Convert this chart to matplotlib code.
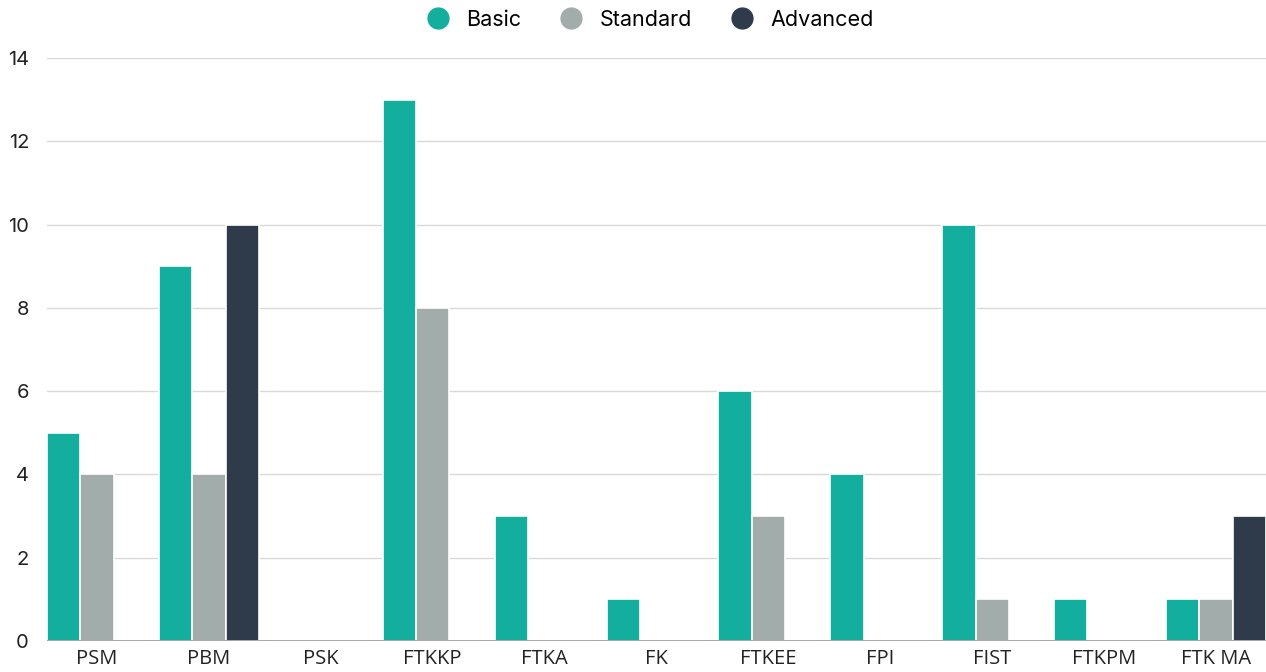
import numpy as np
import matplotlib.pyplot as plt
from matplotlib.lines import Line2D

categories = ["PSM", "PBM", "PSK", "FTKKP", "FTKA", "FK", "FTKEE", "FPI", "FIST", "FTKPM", "FTK MA"]
basic = [5, 9, 0, 13, 3, 1, 6, 4, 10, 1, 1]
standard = [4, 4, 0, 8, 0, 0, 3, 0, 1, 0, 1]
advanced = [0, 10, 0, 0, 0, 0, 0, 0, 0, 0, 3]
series_names = ["Basic", "Standard", "Advanced"]
colors = ["#14ae9f", "#a2acab", "#2f3a4a"]

plt.rcParams['font.family'] = ['Inter', 'DejaVu Sans']

fig = plt.figure(figsize=(12.66, 6.72), dpi=100)
ax = fig.add_axes([47 / 1266, 31 / 672, 1 - 47 / 1266, (641 - 58) / 672])

x = np.arange(len(categories))
group = 100 / 111.9
w = group / 3
for i, (vals, c) in enumerate(zip([basic, standard, advanced], colors)):
    ax.bar(x - group / 2 + w * (i + 0.5), vals, width=w, color=c,
           edgecolor="white", linewidth=1.2, zorder=2)

ax.set_xlim(-group / 2, len(categories) - 1 + group / 2)
ax.set_ylim(0, 14)
ax.set_yticks(range(0, 15, 2))
ax.grid(axis="y", color="#d9d9d9", linewidth=1, zorder=0)
ax.axhline(0, color="#9a9a9a", linewidth=1.2, zorder=3)
for s in ax.spines.values():
    s.set_visible(False)
ax.tick_params(axis="both", length=0, labelsize=14.5, colors="#222222")
ax.tick_params(axis="y", pad=13)
ax.tick_params(axis="x", pad=6)
ax.set_xticks(x)
ax.set_xticklabels(categories, family=['Open Sans', 'DejaVu Sans'], fontsize=14.5)

handles = [Line2D([], [], marker="o", linestyle="", markersize=15,
                  markerfacecolor=c, markeredgecolor=c) for c in colors]
fig.legend(handles, series_names, loc="center", bbox_to_anchor=(645 / 1266, 1 - 20 / 672),
           ncol=3, frameon=False, fontsize=15.5, handletextpad=0.3, columnspacing=1.35)

fig.savefig("out.png", dpi=100)
